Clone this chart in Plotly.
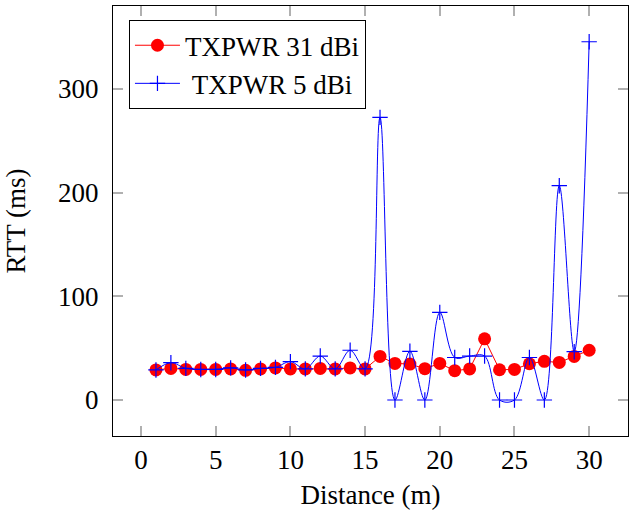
import plotly.graph_objects as go

distance = list(range(1, 31))
rtt_31dbi = [29, 30.5, 29.5, 29.5, 29.5, 30, 28.6, 30, 31, 30,
             30, 30.5, 30, 31, 30, 42, 35.3, 34.7, 30.2, 35.3,
             28.3, 30, 59, 29.2, 29.5, 35, 37.3, 36.3, 42, 48]
rtt_5dbi = [29, 36, 30.5, 29.5, 29.5, 31, 29, 30.5, 31.5, 37,
            30, 42.4, 30, 48, 30, 272.6, 0, 47, 0, 84.5,
            41, 42.4, 42.4, 0, 0, 41, 0, 206.7, 46.6, 345.5]
series_names = ["TXPWR 31 dBi", "\u00a0TXPWR 5 dBi"]

font_family = "Liberation Serif"
fs = 27

fig = go.Figure()
fig.add_trace(go.Scatter(
    x=distance, y=rtt_31dbi, name=series_names[0], mode="lines+markers",
    line=dict(color="red", width=1),
    marker=dict(symbol="circle", size=13, color="red"),
))
fig.add_trace(go.Scatter(
    x=distance, y=rtt_5dbi, name=series_names[1], mode="lines+markers",
    line=dict(color="blue", width=1, shape="spline", smoothing=1.0),
    marker=dict(symbol="cross-thin", size=11, color="blue",
                line=dict(color="blue", width=1.2)),
))

axis_common = dict(
    showgrid=False, zeroline=False, showline=True, linecolor="black", linewidth=1,
    mirror="allticks", ticks="inside", tickcolor="#b0b0b0", ticklen=10, tickwidth=1.5,
    tickfont=dict(family=font_family, size=fs, color="black"),
)

fig.update_layout(
    width=629, height=511,
    margin=dict(l=113, r=1, t=6, b=75),
    paper_bgcolor="white", plot_bgcolor="white",
    font=dict(family=font_family, size=fs, color="black"),
    xaxis=dict(range=[-1.875, 32.6], tickvals=[0, 5, 10, 15, 20, 25, 30],
               ticklabelstandoff=0,
               title=dict(text="Distance (m)", font=dict(family=font_family, size=fs), standoff=10),
               **axis_common),
    yaxis=dict(range=[-34.7, 380], tickvals=[0, 100, 200, 300],
               ticklabelstandoff=8,
               title=dict(text="RTT (ms)", font=dict(family=font_family, size=fs), standoff=24),
               **axis_common),
    legend=dict(x=0.031, y=0.967, xanchor="left", yanchor="top",
                bgcolor="white", bordercolor="black", borderwidth=1,
                font=dict(family=font_family, size=fs), tracegroupgap=0,
                itemwidth=45),
    showlegend=True,
)

fig.write_html("out.html")
